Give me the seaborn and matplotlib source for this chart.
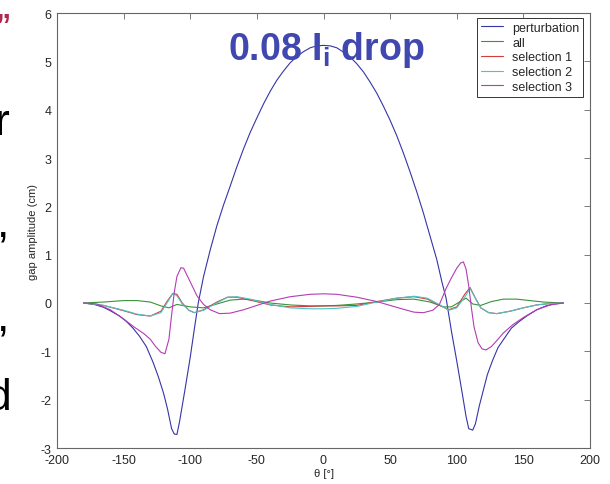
import matplotlib
matplotlib.use('Agg')
import numpy as np
import pandas as pd
import seaborn as sns
import matplotlib.pyplot as plt

# gap amplitude vs poloidal angle for a 0.08 Ii drop
theta_pert = [-180, -172, -165, -160, -153, -148, -143, -138, -133, -128, -124, -120, -117, -114,
              -112, -110, -108, -104, -100, -97, -94, -90, -85, -80, -75, -70, -65, -60, -55, -50,
              -45, -40, -35, -30, -25, -20, -15, -10, -5, 0, 5, 10, 15, 20, 25, 30, 35, 40, 45,
              50, 55, 60, 65, 70, 75, 80, 85, 89, 92, 96, 100, 104, 107, 109, 112, 114, 117, 120,
              123, 127, 131, 136, 141, 147, 153, 160, 167, 173, 180]
pert = [0, -0.03, -0.09, -0.16, -0.27, -0.38, -0.52, -0.69, -0.90, -1.22, -1.52, -1.87, -2.2, -2.6,
        -2.71, -2.72, -2.45, -1.8, -1.12, -0.55, 0.0, 0.55, 1.1, 1.6, 2.03, 2.42, 2.82, 3.19, 3.53,
        3.83, 4.12, 4.38, 4.61, 4.8, 4.97, 5.1, 5.2, 5.28, 5.32, 5.33, 5.32, 5.28, 5.19, 5.09, 4.95,
        4.78, 4.57, 4.34, 4.07, 3.78, 3.46, 3.1, 2.71, 2.3, 1.86, 1.38, 0.9, 0.42, 0.1, -0.58,
        -1.2, -1.85, -2.35, -2.6, -2.63, -2.5, -2.12, -1.8, -1.48, -1.18, -0.92, -0.72, -0.52,
        -0.38, -0.26, -0.14, -0.06, -0.02, 0]

theta_all = [-180, -165, -150, -140, -130, -122, -116, -110, -100, -90, -80, -70, -60, -50, -40, -25,
             -10, 0, 10, 25, 40, 55, 68, 80, 90, 96, 102, 107, 112, 118, 126, 135, 145, 155, 165, 180]
amp_all = [0, 0.02, 0.05, 0.05, 0.02, -0.06, -0.1, -0.03, -0.08, -0.1, -0.02, 0.06, 0.08, 0.05, 0.0,
           -0.04, -0.06, -0.06, -0.05, -0.02, 0.02, 0.07, 0.08, 0.02, -0.08, -0.08, 0.02, 0.1, -0.02,
           -0.05, 0.03, 0.08, 0.08, 0.05, 0.02, 0]

theta_sel = [-180, -165, -150, -140, -130, -122, -117, -113, -110, -106, -101, -97, -90, -80, -72,
             -65, -55, -40, -25, -10, 0, 10, 25, 40, 55, 68, 78, 88, 94, 100, 106, 110, 114, 118,
             124, 130, 140, 150, 160, 170, 180]
sel1 = [0, -0.05, -0.16, -0.24, -0.27, -0.17, 0.05, 0.2, 0.18, 0.0, -0.15, -0.2, -0.14, 0.02, 0.12,
        0.12, 0.06, -0.04, -0.08, -0.07, -0.06, -0.06, -0.05, 0.03, 0.1, 0.13, 0.08, -0.06, -0.14,
        -0.08, 0.18, 0.32, 0.1, -0.1, -0.2, -0.22, -0.17, -0.1, -0.04, -0.01, 0]
sel2 = [0, -0.05, -0.15, -0.23, -0.27, -0.2, 0.02, 0.2, 0.15, -0.02, -0.15, -0.2, -0.15, 0.0, 0.12,
        0.13, 0.08, -0.03, -0.1, -0.12, -0.12, -0.11, -0.07, 0.02, 0.1, 0.14, 0.1, -0.05, -0.15,
        -0.1, 0.12, 0.3, 0.1, -0.1, -0.2, -0.22, -0.17, -0.1, -0.04, -0.01, 0]

theta_sel3 = [-180, -170, -160, -150, -142, -135, -130, -126, -122, -119, -116, -114, -112, -110,
              -107, -105, -102, -99, -95, -90, -85, -78, -70, -60, -50, -40, -25, -10, 0, 10, 25,
              40, 50, 60, 68, 75, 82, 87, 92, 96, 100, 103, 105, 107, 109, 111, 113, 116, 119, 122,
              126, 130, 135, 142, 150, 160, 170, 180]
sel3 = [0, -0.02, -0.14, -0.33, -0.5, -0.63, -0.75, -0.9, -1.02, -1.05, -0.75, -0.25, 0.22, 0.55,
        0.73, 0.72, 0.55, 0.38, 0.15, -0.03, -0.14, -0.22, -0.21, -0.14, -0.05, 0.04, 0.13, 0.18,
        0.19, 0.18, 0.12, 0.03, -0.05, -0.13, -0.19, -0.2, -0.15, -0.03, 0.3, 0.52, 0.72, 0.83,
        0.85, 0.7, 0.35, -0.1, -0.5, -0.82, -0.95, -0.97, -0.9, -0.78, -0.62, -0.45, -0.3, -0.14,
        -0.04, 0]

names = ['perturbation', 'all', 'selection 1', 'selection 2', 'selection 3']
colors = ['#3535A8', '#3A923A', '#D23C3C', '#4CC4C4', '#B43CB4']

df = pd.concat([
    pd.DataFrame({'theta': theta_pert, 'amp': pert, 'series': names[0]}),
    pd.DataFrame({'theta': theta_all, 'amp': amp_all, 'series': names[1]}),
    pd.DataFrame({'theta': theta_sel, 'amp': sel1, 'series': names[2]}),
    pd.DataFrame({'theta': theta_sel, 'amp': sel2, 'series': names[3]}),
    pd.DataFrame({'theta': theta_sel3, 'amp': sel3, 'series': names[4]}),
], ignore_index=True)

sns.set_style('white')
plt.rcParams['font.family'] = ['Liberation Sans', 'DejaVu Sans']
plt.rcParams['axes.unicode_minus'] = False
plt.rcParams['mathtext.fontset'] = 'custom'
plt.rcParams['mathtext.bf'] = 'Liberation Sans:bold'
plt.rcParams['mathtext.rm'] = 'Liberation Sans'

fig = plt.figure(figsize=(6.1, 4.85), dpi=100)
ax = fig.add_axes([57 / 610, 1 - 449 / 485, 533 / 610, 435 / 485])

sns.lineplot(data=df, x='theta', y='amp', hue='series', hue_order=names, palette=colors,
             sort=False, estimator=None, linewidth=0.8, ax=ax)

ax.set_xlim(-200, 200)
ax.set_ylim(-3, 6)
ax.set_xticks(np.arange(-200, 201, 50))
ax.set_yticks(np.arange(-3, 7, 1))
ax.tick_params(direction='in', top=True, right=True, length=4, width=0.6,
               color='#666666', labelsize=9, pad=4)
for s in ax.spines.values():
    s.set_color('#666666')
    s.set_linewidth(0.8)

ax.set_xlabel('θ [°]', fontsize=8, labelpad=2)
ax.set_ylabel('gap amplitude (cm)', fontsize=8, labelpad=2)

h, l = ax.get_legend_handles_labels()
leg = ax.legend(h, l, loc='upper right', bbox_to_anchor=(0.987, 0.9885), borderaxespad=0,
                fontsize=9, handlelength=1.8, handletextpad=0.7, labelspacing=0.22,
                borderpad=0.3, fancybox=False, framealpha=1, edgecolor='#333333')
leg.get_frame().set_linewidth(0.7)
for line in leg.get_lines():
    line.set_linewidth(0.8)

fig.text(326 / 610, 1 - 60 / 485, r'0.08 I$_\mathbf{i}$ drop', ha='center', va='baseline',
         fontsize=27, fontweight='bold', color='#4048B0')

# cut-off slide text on the left edge
fig.text(11 / 610, 1 - 13 / 485, '\u201d', ha='right', va='top', fontsize=22,
         fontweight='bold', color='#B02850')
fig.text(10 / 610, 1 - 135 / 485, 'r', ha='right', va='baseline', fontsize=32, color='black')
fig.text(9 / 610, 1 - 237 / 485, ',', ha='right', va='baseline', fontsize=32, color='black')
fig.text(9 / 610, 1 - 330 / 485, ',', ha='right', va='baseline', fontsize=32, color='black')
fig.text(11 / 610, 1 - 410 / 485, 'd', ha='right', va='baseline', fontsize=32, color='black')

fig.savefig('out.png', dpi=100)
